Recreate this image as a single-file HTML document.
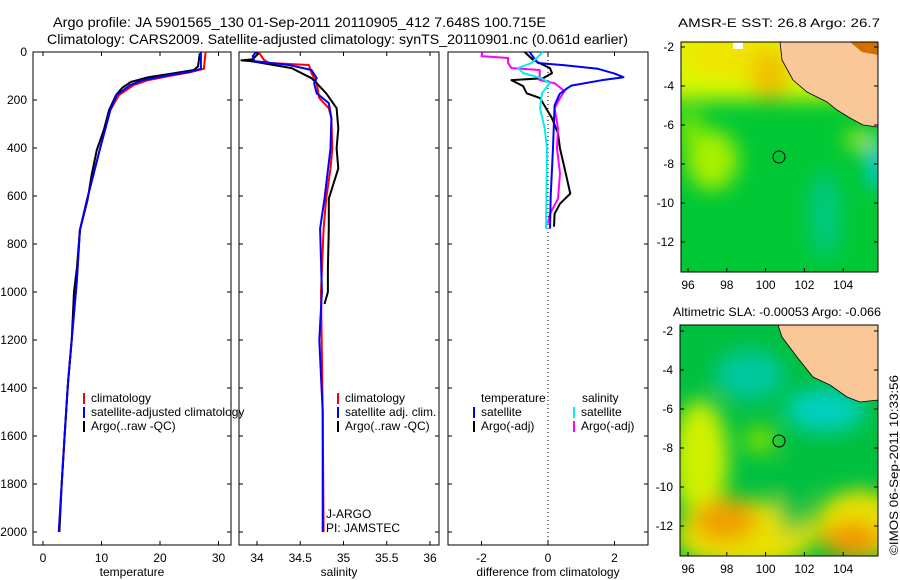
<!DOCTYPE html>
<html><head><meta charset="utf-8"><style>
html,body{margin:0;padding:0;background:#fff;width:900px;height:580px;overflow:hidden}
svg{display:block;font-family:"Liberation Sans",Arial,sans-serif}
</style></head><body>
<svg id="fig" width="900" height="580" viewBox="0 0 900 580">
<defs>
<filter id="blur" x="-50%" y="-50%" width="200%" height="200%"><feGaussianBlur stdDeviation="10"/></filter>
<clipPath id="clipMap1"><rect x="681" y="42" width="197" height="230"/></clipPath>
<clipPath id="clipMap2"><rect x="680" y="325" width="198" height="231"/></clipPath>
</defs>
<text x="53" y="27" font-size="14" textLength="493" lengthAdjust="spacingAndGlyphs">Argo profile: JA 5901565_130 01-Sep-2011 20110905_412 7.648S 100.715E</text>
<text x="47" y="44" font-size="14" textLength="581" lengthAdjust="spacingAndGlyphs">Climatology: CARS2009. Satellite-adjusted climatology: synTS_20110901.nc (0.061d earlier)</text>

<g>
<text x="779" y="27" font-size="12" text-anchor="middle" textLength="202" lengthAdjust="spacingAndGlyphs">AMSR-E SST: 26.8 Argo: 26.7</text>
<g clip-path="url(#clipMap1)">
<rect x="681" y="42" width="197" height="230" fill="#00c834"/>
<g filter="url(#blur)">
<rect x="660" y="20" width="240" height="80" fill="#d8f800"/>
<ellipse cx="735" cy="55" rx="55" ry="22" fill="#f0e400"/>
<ellipse cx="770" cy="75" rx="20" ry="25" fill="#f0c000"/>
<ellipse cx="712" cy="160" rx="26" ry="30" fill="#a8f000"/>
<ellipse cx="690" cy="130" rx="12" ry="20" fill="#80e800"/>
<ellipse cx="825" cy="215" rx="16" ry="45" fill="#00c880"/>
<ellipse cx="878" cy="165" rx="10" ry="25" fill="#00c8f0"/>
<ellipse cx="860" cy="140" rx="15" ry="8" fill="#d8f000"/>
</g>
<rect x="733" y="42" width="10" height="7" fill="#fff"/>
<polygon points="780,42 878,42 878,127 863,125 850,118 837,110 827,102 807,92 793,80 782,60" fill="#fac898" stroke="#000" stroke-width="0.8"/>
<polygon points="850,42 878,42 878,55 862,52" fill="#d07000"/>
<circle cx="779" cy="157" r="6" fill="none" stroke="#000" stroke-width="1"/>
</g>
<rect x="681" y="42" width="197" height="230" fill="none" stroke="#000" stroke-width="1"/>
</g>

<g>
<text x="777" y="316" font-size="12" text-anchor="middle" textLength="208" lengthAdjust="spacingAndGlyphs">Altimetric SLA: -0.00053 Argo: -0.066</text>
<g clip-path="url(#clipMap2)">
<rect x="680" y="325" width="198" height="231" fill="#00c040"/>
<g filter="url(#blur)">
<ellipse cx="750" cy="375" rx="35" ry="25" fill="#00c8a0"/>
<ellipse cx="825" cy="410" rx="40" ry="22" fill="#00d0c0"/>
<ellipse cx="700" cy="460" rx="28" ry="60" fill="#d0f000"/>
<ellipse cx="745" cy="535" rx="70" ry="35" fill="#e8e000"/>
<ellipse cx="860" cy="525" rx="45" ry="35" fill="#e8e000"/>
<ellipse cx="725" cy="520" rx="32" ry="22" fill="#f0a000"/>
<ellipse cx="852" cy="540" rx="30" ry="18" fill="#f09800"/>
<ellipse cx="792" cy="495" rx="14" ry="40" fill="#00c040"/>
<ellipse cx="760" cy="440" rx="16" ry="14" fill="#80e000"/>
</g>
<polygon points="778,325 878,325 878,400 860,402 847,397 830,385 813,377 797,357 782,337" fill="#fac898" stroke="#000" stroke-width="0.8"/>
<circle cx="779" cy="441" r="6" fill="none" stroke="#000" stroke-width="1"/>
</g>
<rect x="680" y="325" width="198" height="231" fill="none" stroke="#000" stroke-width="1"/>
</g>
<text transform="translate(898,555) rotate(-90)" font-size="12" textLength="180" lengthAdjust="spacingAndGlyphs">©IMOS 06-Sep-2011 10:33:56</text>
<g id="plots"></g>
</svg>
<script>
// ---- data ----
const depthTicks = [0,200,400,600,800,1000,1200,1400,1600,1800,2000];
const tempTicks = [0,10,20,30];
const salTicks = [34,34.5,35,35.5,36];
const salTickLabels = ["34","34.5","35","35.5","36"];
const diffTicks = [-2,0,2];
const lonTicks = [96,98,100,102,104];
const latTicks = [-2,-4,-6,-8,-10,-12];

const climTDepth = [0,70,85,96,117,138,179,242,325,408,513,617,742,950,1200,1367,1600,1800,2000];
const climT = [27.8,27.5,25,22.5,18,15.5,13,11.5,10.6,9.7,8.6,7.5,6.3,5.8,4.9,4.3,3.7,3.2,2.7];
const satTDepth = [0,70,83,96,117,138,179,242,325,408,513,617,742,950,1200,1367,1600,1800,2000];
const satT = [27.0,27.0,25.1,21.7,17.1,14.9,12.6,11.5,10.6,9.7,8.6,7.5,6.3,5.8,4.9,4.3,3.7,3.2,2.7];
const argoTDepth = [5,60,75,90,105,125,150,179,242,325,408,513,617,742,900,1000,1200,1400,1600,1800,2000];
const argoT = [26.8,26.5,25.8,22,18,15,13.5,12.5,11.3,10.4,9.2,8.3,7.6,6.3,5.8,5.3,4.9,4.2,3.7,3.2,2.8];

const climSDepth = [0,33,46,54,88,130,192,234,276,402,485,611,736,1000,1500,2000];
const climS = [34.02,34.08,34.14,34.60,34.63,34.69,34.72,34.83,34.86,34.87,34.85,34.80,34.77,34.74,34.76,34.77];
const satSDepth = [0,17,38,54,75,109,130,172,213,276,402,611,736,1000,1200,1500,2000];
const satS = [33.99,33.95,33.97,34.37,34.63,34.69,34.66,34.69,34.83,34.86,34.85,34.78,34.73,34.75,34.72,34.76,34.76];
const argoSDepth = [5,30,35,38,67,109,130,172,234,318,402,485,611,736,900,1000,1050];
const argoS = [34.02,33.95,33.82,33.93,34.4,34.63,34.69,34.80,34.92,34.94,34.92,34.94,34.83,34.83,34.82,34.82,34.78];

const dSatTDepth = [0,20,46,55,70,90,105,118,140,151,175,222,400,600,736];
const dSatT = [-0.55,-0.45,-0.3,0.5,1.5,2.0,2.27,1.6,0.7,0.58,0.35,0.2,0.15,0.08,0.06];
const dArgoTDepth = [0,33,67,88,109,117,142,172,192,276,339,402,485,590,632,674,728];
const dArgoT = [-0.7,-0.45,0.06,0.12,-0.15,-1.1,-0.75,-0.64,-0.24,0.12,0.3,0.36,0.5,0.67,0.36,0.2,0.18];
const dSatSDepth = [0,46,67,88,109,130,172,234,318,402,736];
const dSatS = [-0.15,-0.5,-0.9,-0.75,-0.2,0.05,-0.18,-0.24,-0.1,-0.03,-0.06];
const dArgoSDepth = [0,17,25,46,67,75,117,130,163,192,234,318,402,506,611,674,715];
const dArgoS = [-1.97,-2.0,-1.2,-1.2,-1.1,-0.25,-0.25,0.2,0.5,0.36,0.2,0.3,0.27,0.36,0.3,0.06,0.0];

// ---- layout ----
const NS = "http://www.w3.org/2000/svg";
const g = document.getElementById('plots');
const Y0 = 52, YB = 545;
function yD(d){ return Y0 + d*0.24; }
const panels = [
  {name:'temperature', x0:33, x1:231, v0:0, vx:43, k:5.85, ticks:tempTicks, labels:tempTicks.map(String), label:'temperature'},
  {name:'salinity', x0:239, x1:439, v0:34, vx:257, k:86.5, ticks:salTicks, labels:salTickLabels, label:'salinity'},
  {name:'difference', x0:448, x1:648, v0:0, vx:548, k:33.25, ticks:diffTicks, labels:diffTicks.map(String), label:'difference from climatology'}
];
function xf(p,v){ return p.vx + (v-p.v0)*p.k; }
function mk(tag, attrs){ const e=document.createElementNS(NS,tag); for(const k in attrs) e.setAttribute(k,attrs[k]); return e; }

panels.forEach(function(p){
  const box = mk('rect',{x:p.x0,y:Y0,width:p.x1-p.x0,height:YB-Y0,fill:'none',stroke:'#000','stroke-width':1});
  
  
  g.appendChild(box);
  p.ticks.forEach(function(t,i){
    const x = xf(p,t);
    const tk = mk('path',{d:'M'+x+','+YB+'v-4M'+x+','+Y0+'v4',stroke:'#000','stroke-width':1});
    
    
    g.appendChild(tk);
    const tl = mk('text',{x:x,y:562,'font-size':12,'text-anchor':'middle'});
    tl.textContent = p.labels[i];
    
    
    g.appendChild(tl);
  });
  depthTicks.forEach(function(d){
    const y = yD(d);
    const tk = mk('path',{d:'M'+p.x0+','+y+'h4M'+p.x1+','+y+'h-4',stroke:'#000','stroke-width':1});
    
    
    g.appendChild(tk);
  });
  const al = mk('text',{x:(p.x0+p.x1)/2,y:576,'font-size':12,'text-anchor':'middle'});
  al.textContent = p.label;
  
  
  g.appendChild(al);
});
depthTicks.forEach(function(d){
  const t = mk('text',{x:27,y:yD(d)+4,'font-size':12,'text-anchor':'end'});
  t.textContent = String(d);
  
  
  g.appendChild(t);
});
const zl = mk('line',{x1:xf(panels[2],0),x2:xf(panels[2],0),y1:Y0,y2:YB,stroke:'#000','stroke-dasharray':'1,3','stroke-width':1});


g.appendChild(zl);

function series(p, depths, vals, color, name){
  const pts = depths.map(function(d,i){ return xf(p,vals[i]).toFixed(1)+','+yD(d).toFixed(1); }).join(' ');
  const pl = mk('polyline',{points:pts,fill:'none',stroke:color,'stroke-width':2,'stroke-linejoin':'round'});
  
  
  g.appendChild(pl);
}
series(panels[0], climTDepth, climT, '#f00', 'temp-climatology-line');
series(panels[0], argoTDepth, argoT, '#000', 'temp-argo-line');
series(panels[0], satTDepth, satT, '#00f', 'temp-satellite-line');
series(panels[1], climSDepth, climS, '#f00', 'sal-climatology-line');
series(panels[1], argoSDepth, argoS, '#000', 'sal-argo-line');
series(panels[1], satSDepth, satS, '#00f', 'sal-satellite-line');
series(panels[2], dArgoTDepth, dArgoT, '#000', 'diff-temp-argo-line');
series(panels[2], dArgoSDepth, dArgoS, '#f0f', 'diff-sal-argo-line');
series(panels[2], dSatTDepth, dSatT, '#00f', 'diff-temp-satellite-line');
series(panels[2], dSatSDepth, dSatS, '#0ee', 'diff-sal-satellite-line');

function legend(x, y, color, text){
  const m = mk('rect',{x:x,y:y-9,width:2,height:11,fill:color});
  
  
  g.appendChild(m);
  const t = mk('text',{x:x+8,y:y,'font-size':12});
  t.textContent = text;
  
  
  g.appendChild(t);
}
function label(x,y,text,name){
  const t = mk('text',{x:x,y:y,'font-size':12});
  t.textContent = text;
  
  
  g.appendChild(t);
}
legend(83,402,'#f00','climatology');
legend(83,416,'#00f','satellite-adjusted climatology');
legend(83,430,'#000','Argo(..raw -QC)');
legend(337,402,'#f00','climatology');
legend(337,416,'#00f','satellite adj. clim.');
legend(337,430,'#000','Argo(..raw -QC)');
label(326,518,'J-ARGO','float-program-label');
label(326,532,'PI: JAMSTEC','float-pi-label');
label(481,402,'temperature','diff-temp-legend-header');
legend(473,416,'#00f','satellite');
legend(473,430,'#000','Argo(-adj)');
label(582,402,'salinity','diff-sal-legend-header');
legend(573,416,'#0ee','satellite');
legend(573,430,'#f0f','Argo(-adj)');

function mapAxes(prefix, x0, x1, y0, y1, latY2){
  lonTicks.forEach(function(lon){
    const x = 688 + (lon-96)*19.4;
    const tk = mk('path',{d:'M'+x+','+y1+'v-4',stroke:'#000'});
    
    
    g.appendChild(tk);
    const t = mk('text',{x:x,y:y1+17,'font-size':12,'text-anchor':'middle'});
    t.textContent = String(lon);
    
    
    g.appendChild(t);
  });
  latTicks.forEach(function(lat){
    const y = latY2 + (-2-lat)*19.5;
    const tk = mk('path',{d:'M'+x0+','+y+'h4M'+x1+','+y+'h-4',stroke:'#000'});
    
    
    g.appendChild(tk);
    const t = mk('text',{x:x0-7,y:y+4,'font-size':12,'text-anchor':'end'});
    t.textContent = String(lat);
    
    
    g.appendChild(t);
  });
}
mapAxes('sst-map',681,878,42,272,47);
mapAxes('sla-map',680,878,325,556,331);
</script>
</body></html>
